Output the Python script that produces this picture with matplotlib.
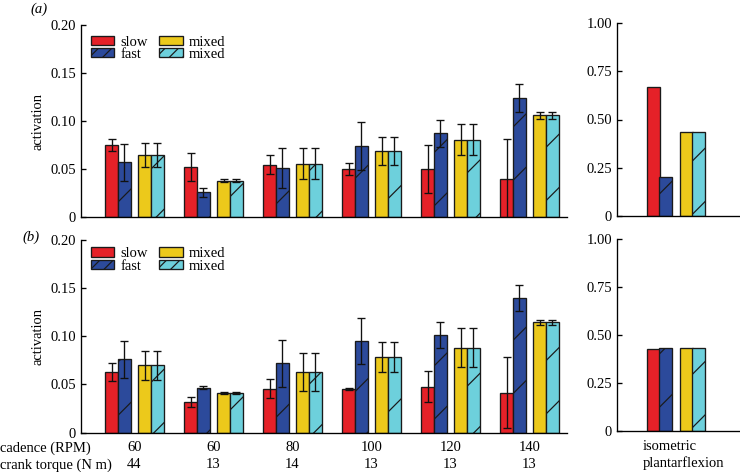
import numpy as np
import matplotlib
matplotlib.use('Agg')
import matplotlib.pyplot as plt
from matplotlib.patches import Patch

plt.rcParams['font.family'] = ['Liberation Serif', 'DejaVu Serif']
plt.rcParams['font.size'] = 6.6
plt.rcParams['hatch.linewidth'] = 0.55

cadence = ['60', '60', '80', '100', '120', '140']
torque = ['44', '13', '14', '13', '13', '13']
names = ['slow', 'fast', 'mixed', 'mixed']

# panel (a)
slow_a = [0.075, 0.052, 0.0545, 0.050, 0.050, 0.040]
slow_a_err = [0.006, 0.015, 0.010, 0.006, 0.025, 0.041]
fast_a = [0.057, 0.0257, 0.051, 0.0743, 0.087, 0.124]
fast_a_err = [0.019, 0.005, 0.021, 0.025, 0.0137, 0.0145]
mixed_a = [0.065, 0.038, 0.0556, 0.069, 0.0806, 0.1059]
mixed_a_err = [0.0125, 0.002, 0.016, 0.0145, 0.0158, 0.0035]
iso_a = [0.666, 0.204, 0.434, 0.434]

# panel (b)
slow_b = [0.0628, 0.032, 0.0455, 0.0452, 0.0476, 0.0414]
slow_b_err = [0.009, 0.005, 0.0097, 0.001, 0.016, 0.0366]
fast_b = [0.0759, 0.0466, 0.0717, 0.0952, 0.1014, 0.1397]
fast_b_err = [0.019, 0.0016, 0.0248, 0.0237, 0.0135, 0.0136]
mixed_b = [0.0697, 0.041, 0.0631, 0.0786, 0.0883, 0.1145]
mixed_b_err = [0.0148, 0.001, 0.0195, 0.0155, 0.02, 0.0028]
iso_b = [0.427, 0.434, 0.431, 0.431]

colors = ['#e52128', '#2c4a9b', '#ecc91b', '#6dd0dc']
hatches = ['', '/', '', '/']
offsets = [-0.29, -0.127, 0.127, 0.29]
width = 0.165
edge = '#1a1a1a'
lw = 0.6

W, H = 740, 472
fig = plt.figure(figsize=(W / 160, H / 160), dpi=160)


def style(ax, ymax, ticks, ticklabels):
    for s in ['top', 'right']:
        ax.spines[s].set_visible(False)
    for s in ['left', 'bottom']:
        ax.spines[s].set_linewidth(lw)
    ax.set_ylim(0, ymax)
    ax.set_yticks(ticks)
    ax.set_yticklabels(ticklabels)
    ax.tick_params(axis='y', direction='in', length=2.3, width=lw, pad=2.2)
    ax.tick_params(axis='x', length=0, pad=4.0)


def group_panel(ax, series, errs, show_x, leg_y):
    x = np.arange(len(cadence))
    for i in range(4):
        ax.bar(x + offsets[i], series[i], width, color=colors[i], hatch=hatches[i],
               edgecolor=edge, linewidth=lw, zorder=2)
        ax.errorbar(x + offsets[i], series[i], yerr=errs[i], fmt='none', ecolor='#111111',
                    elinewidth=lw, capsize=1.8, capthick=lw, zorder=3)
    ax.set_xlim(-0.677, 5.475)
    style(ax, 0.2, [0, 0.05, 0.10, 0.15, 0.20], ['0', '0.05', '0.10', '0.15', '0.20'])
    ax.set_xticks(x)
    if show_x:
        ax.set_xticklabels([c + '\n' + t for c, t in zip(cadence, torque)], linespacing=1.35)
    else:
        ax.set_xticklabels([])
    ax.set_ylabel('activation')
    ax.yaxis.set_label_coords(-0.076, 0.5)
    # legend swatches use a denser hatch, as in the original figure
    handles = [Patch(facecolor=colors[i], edgecolor=edge, linewidth=lw,
                     hatch=hatches[i] * 4, label=names[i]) for i in range(4)]
    ax.legend(handles=handles, ncol=2, loc='upper left', bbox_to_anchor=(0.02, leg_y),
              frameon=False, handlelength=1.6, handleheight=0.6, handletextpad=0.4,
              columnspacing=0.8, labelspacing=-0.05, borderpad=0, borderaxespad=0)


def iso_panel(ax, vals, show_x):
    for i in range(4):
        ax.bar(offsets[i], vals[i], width, color=colors[i], hatch=hatches[i],
               edgecolor=edge, linewidth=lw, zorder=2)
    ax.set_xlim(-0.747, 0.81)
    style(ax, 1.0, [0, 0.25, 0.5, 0.75, 1.0], ['0', '0.25', '0.50', '0.75', '1.00'])
    ax.set_xticks([0.09])
    if show_x:
        ax.set_xticklabels(['isometric\nplantarflexion'], multialignment='left',
                           linespacing=1.35)
    else:
        ax.set_xticklabels([])


ax_a = fig.add_axes([81 / W, 1 - 217 / H, 486 / W, 192 / H])
ax_ar = fig.add_axes([617 / W, 1 - 216 / H, 123 / W, 193 / H])
ax_b = fig.add_axes([81 / W, 1 - 432.5 / H, 486 / W, 192.5 / H])
ax_br = fig.add_axes([617 / W, 1 - 431 / H, 123 / W, 192 / H])

group_panel(ax_a, [slow_a, fast_a, mixed_a, mixed_a],
            [slow_a_err, fast_a_err, mixed_a_err, mixed_a_err], False, 0.945)
group_panel(ax_b, [slow_b, fast_b, mixed_b, mixed_b],
            [slow_b_err, fast_b_err, mixed_b_err, mixed_b_err], True, 0.962)
iso_panel(ax_ar, iso_a, False)
iso_panel(ax_br, iso_b, True)

fig.text(0.0, 1 - 441.5 / H, 'cadence (RPM)\ncrank torque (N m)', ha='left', va='top',
         linespacing=1.35)
fig.text(30 / W, 1 - 9 / H, '(a)', style='italic', va='center')
fig.text(22 / W, 1 - 237 / H, '(b)', style='italic', va='center')

fig.savefig('out.png', dpi=160)
